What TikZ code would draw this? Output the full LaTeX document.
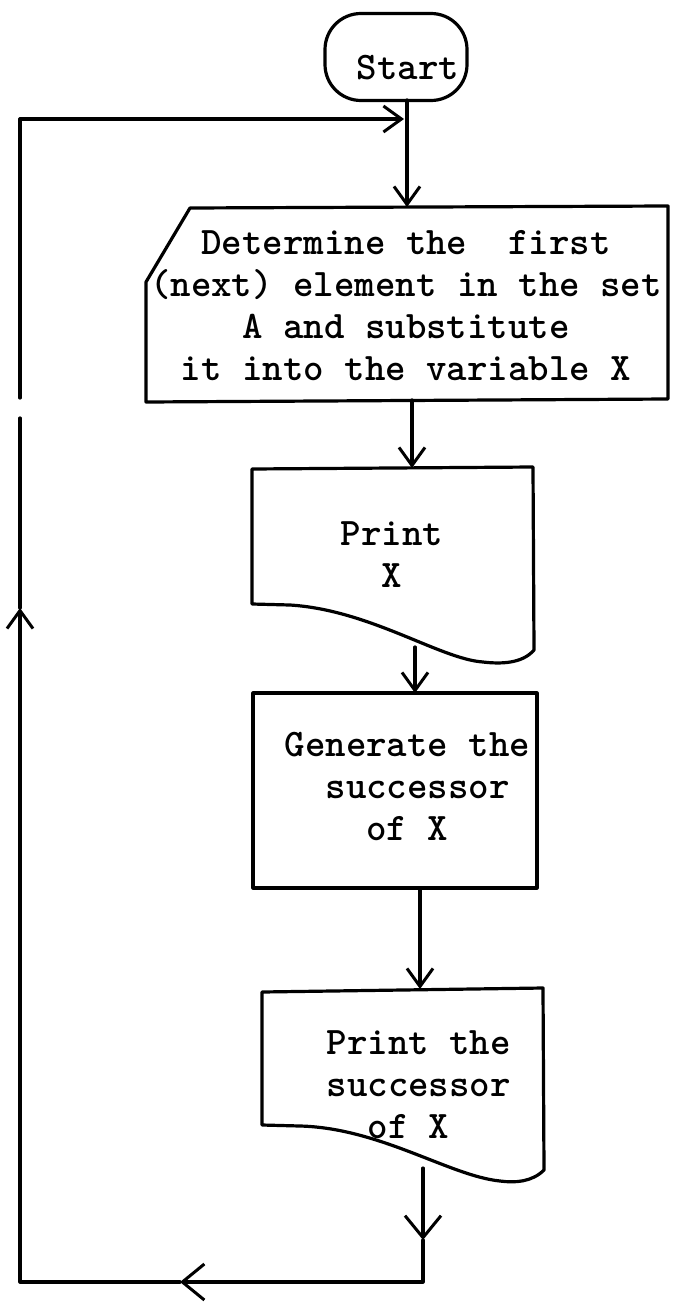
\documentclass[tikz,border=0pt]{standalone}
\usetikzlibrary{arrows.meta}
\begin{document}
\begin{tikzpicture}[x=1pt,y=-1pt,line width=3.2pt,line join=round,line cap=round,
  txt/.style={font=\fontsize{39}{42}\selectfont\ttfamily\bfseries,align=center,inner sep=0pt},
  ltxt/.style={txt,align=left,anchor=west},
  tip/.style={-{Straight Barb[length=18pt,width=26pt,line width=3pt]}},
  bigtip/.style={-{Straight Barb[length=22pt,width=36pt,line width=3pt]}}]
\useasboundingbox (0,0) rectangle (672,1303);

% terminal
\node[draw,rounded corners=36pt,minimum width=142pt,minimum height=87pt,inner sep=0pt] (start) at (396,57) {};
\node[txt] (starttxt) at (408,68) {Start};

% manual input box (cut top-left corner)
\draw (190,208) -- (668,206) -- (668,399) -- (146,402) -- (146,282) -- cycle;
\node[txt] (determine) at (406,306) {Determine the\ \ first\\(next) element in the set\\A and substitute\\it into the variable X};

% first document shape
\draw (252,469) -- (533,467) -- (534,650)
  .. controls (522,664) and (500,664) .. (483,662)
  .. controls (440,659) and (370,610) .. (290,605) -- (252,604) -- cycle;
\node[txt] (printx) at (392,555) {Print\\X};

% process box
\node[draw,minimum width=284pt,minimum height=195pt,inner sep=0pt] (gen) at (395,790.5) {};
\node[ltxt] (gentxt) at (283,786) {Generate the\\\phantom{xx}successor\\\phantom{xxxx}of X};

% second document shape
\draw (262,992) -- (543,988) -- (544,1170)
  .. controls (532,1182) and (515,1183) .. (500,1181)
  .. controls (450,1176) and (380,1128) .. (300,1126) -- (262,1125) -- cycle;
\node[ltxt] (printsucc) at (325,1085) {Print the\\successor\\\phantom{xx}of X};

% connection points
\coordinate (start-out) at (407,100);
\coordinate (det-in) at (407,207);
\coordinate (det-out) at (412,400);
\coordinate (px-in) at (412,468);
\coordinate (px-out) at (415,647);
\coordinate (gen-in) at (415,693);
\coordinate (gen-out) at (420,888);
\coordinate (ps-in) at (420,989);
\coordinate (ps-out) at (423,1168);
\coordinate (loop-a) at (423,1240);
\coordinate (loop-br) at (423,1282);
\coordinate (loop-b) at (180,1282);
\coordinate (loop-bl) at (20,1282);
\coordinate (loop-c) at (20,608);
\coordinate (gap-lo) at (20,418);
\coordinate (gap-hi) at (20,398);
\coordinate (loop-tl) at (20,119);
\coordinate (loop-in) at (404,119);

% connectors
\draw[tip] (start-out) -- (det-in);
\draw[tip] (det-out) -- (px-in);
\draw[tip] (px-out) -- (gen-in);
\draw[tip] (gen-out) -- (ps-in);
\draw[bigtip] (ps-out) -- (loop-a);
\draw[bigtip] (loop-a) -- (loop-br) -- (loop-b);
\draw[tip] (loop-b) -- (loop-bl) -- (loop-c);
\draw (loop-c) -- (gap-lo);
\draw[tip] (gap-hi) -- (loop-tl) -- (loop-in);
\end{tikzpicture}
\end{document}
